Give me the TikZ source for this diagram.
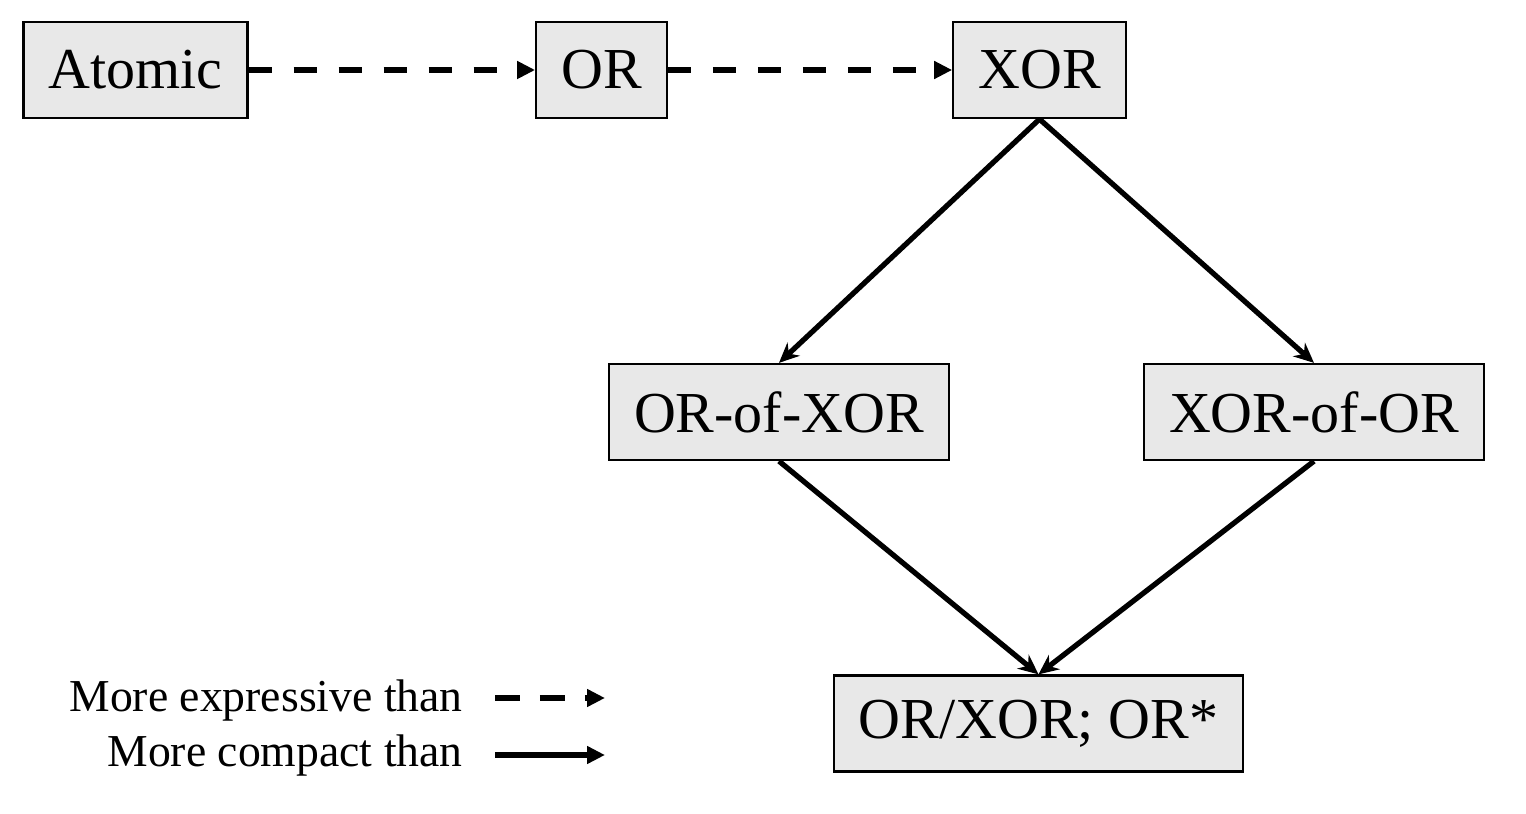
\documentclass[tikz,border=0pt]{standalone}
\usepackage{fontspec}
\setmainfont{Liberation Serif}
\usetikzlibrary{arrows.meta}
\begin{document}
\begin{tikzpicture}[x=0.02cm, y=-0.02cm, >={Triangle[length=0.36cm,width=0.34cm]},
  box/.style={draw, line width=1.3pt, fill=black!9, inner xsep=0.5cm, minimum height=1.92cm, font=\fontsize{33}{36}\selectfont},
  expr/.style={->, line width=3.2pt, dash pattern=on 0.46cm off 0.44cm},
  comp/.style={-{Stealth[length=0.4cm,width=0.36cm]}, line width=3pt},
  legtext/.style={anchor=base east, inner sep=0pt, font=\fontsize{26}{30}\selectfont}]
\useasboundingbox (0,0) rectangle (1526,814);
\node[box] (atomic) at (135.5,70) {Atomic};
\node[box] (or) at (601.5,70) {OR};
\node[box] (xor) at (1039.5,70) {XOR};
\node[box] (orxor) at (779,412) {OR-of-XOR};
\node[box] (xoror) at (1314,412) {XOR-of-OR};
\node[box] (both) at (1038.5,723.5) {OR/XOR; OR*};
\draw[expr] (atomic) -- (or);
\draw[expr] (or) -- (xor);
\draw[comp] (xor.south) -- (orxor.north);
\draw[comp] (xor.south) -- (xoror.north);
\draw[comp] (orxor.south) -- (both.north);
\draw[comp] (xoror.south) -- (both.north);
% legend
\node[legtext] (lexpr) at (463,711) {More expressive than};
\node[legtext] (lcomp) at (463,766) {More compact than};
\coordinate (ea) at (495,698);
\coordinate (eb) at (605,698);
\coordinate (ca) at (495,755);
\coordinate (cb) at (605,755);
\draw[expr, dash pattern=on 0.5cm off 0.4cm] (ea) -- (eb);
\draw[->, line width=3.2pt] (ca) -- (cb);
\end{tikzpicture}
\end{document}
